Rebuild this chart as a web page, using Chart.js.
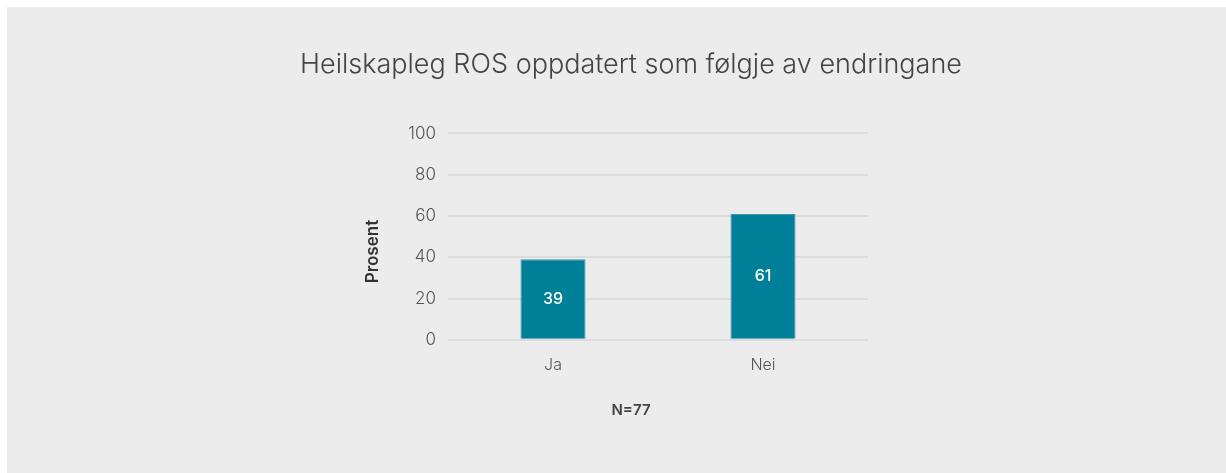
<!DOCTYPE html>
<html>
<head>
<meta charset="utf-8">
<script src="https://cdn.jsdelivr.net/npm/chart.js@4"></script>
<style>
  html, body { margin:0; padding:0; background:#fff; }
  .panel { position:absolute; left:7px; top:7px; width:1219px; height:466px; background:#ececec; }
  canvas { display:block; }
</style>
</head>
<body>
<div class="panel"><canvas id="chart" width="1219" height="466"></canvas></div>
<script>
// data
const categories = ['Ja', 'Nei'];
const values     = [39, 61];
const yTicks     = [0, 20, 40, 60, 80, 100];

const titleText  = 'Heilskapleg ROS oppdatert som følgje av endringane';
const yTitle     = 'Prosent';
const xTitle     = 'N=77';

const FONT = "Inter, 'Open Sans', sans-serif";

// white value labels in the middle of each bar
const barLabels = {
  id: 'barLabels',
  afterDatasetsDraw(chart) {
    const ctx = chart.ctx;
    const meta = chart.getDatasetMeta(0);
    ctx.save();
    ctx.fillStyle = '#ffffff';
    ctx.font = `500 16px ${FONT}`;
    ctx.textAlign = 'center';
    ctx.textBaseline = 'middle';
    meta.data.forEach((bar, i) => {
      ctx.fillText(String(values[i]), bar.x, (bar.y + bar.base) / 2);
    });
    ctx.restore();
  }
};

// blank axes that only take up room, so the plot sits off-centre like the reference
const spacer = (pos, w) => ({
  position: pos,
  display: true,
  weight: 10,
  grid: { display: false },
  border: { display: false },
  ticks: { display: false },
  afterFit: s => { s.width = w; },
});

new Chart(document.getElementById('chart'), {
  type: 'bar',
  data: {
    labels: categories,
    datasets: [{
      data: values,
      backgroundColor: '#007f99',
      borderColor: '#3b98ab',
      borderWidth: 1,
      categoryPercentage: 1,
      barPercentage: 0.31,
    }],
  },
  options: {
    responsive: false,
    animation: false,
    layout: { padding: { left: 250, right: 221, top: 0, bottom: 54 } },
    plugins: {
      legend: { display: false },
      tooltip: { enabled: false },
      title: {
        display: true,
        text: titleText,
        color: '#444',
        font: { family: FONT, size: 27, weight: 300 },
        padding: { top: 42, bottom: 52 },
      },
      subtitle: {
        display: true,
        position: 'bottom',
        text: xTitle,
        color: '#444',
        font: { family: FONT, size: 15, weight: 600 },
        padding: { top: 18, bottom: 0 },
      },
    },
    scales: {
      x: {
        grid: { display: false },
        border: { display: false },
        ticks: { color: '#555', font: { family: FONT, size: 16, weight: 300 }, padding: 8 },
      },
      y: {
        min: 0, max: 100,
        afterBuildTicks: s => { s.ticks = yTicks.map(v => ({ value: v })); },
        afterFit: s => { s.width = 91; },
        grid: { color: '#dcdcdc', lineWidth: 2, drawTicks: false },
        border: { display: false },
        ticks: { color: '#555', font: { family: FONT, size: 17, weight: 300 }, padding: 12 },
        title: {
          display: true, text: yTitle + '\u00a0'.repeat(7), color: '#333',
          font: { family: FONT, size: 17, weight: 600 },
          padding: { top: 6, bottom: 0 },
        },
      },
      padLeft: spacer('left', 100),
      padRight: spacer('right', 137),
    },
  },
  plugins: [barLabels],
});
</script>
</body>
</html>
